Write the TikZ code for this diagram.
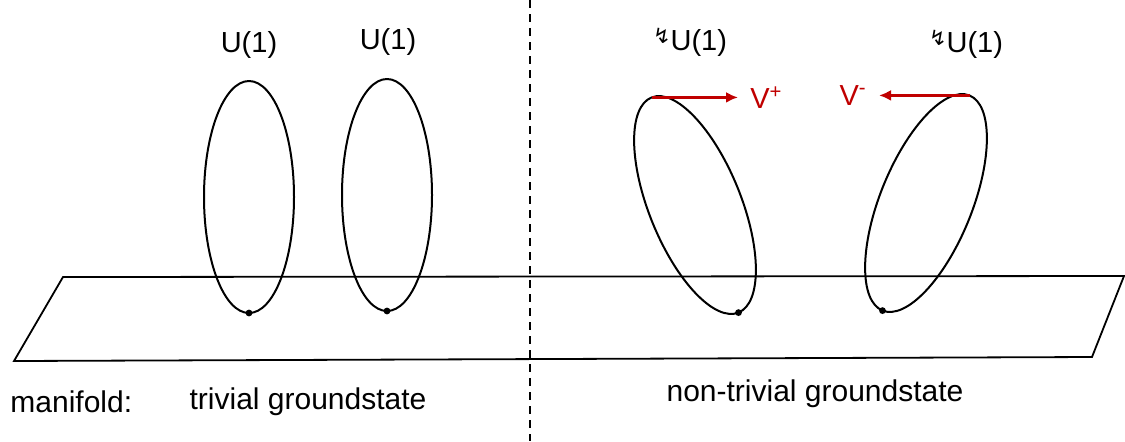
\documentclass[tikz,border=0pt]{standalone}
\usepackage{fontspec}
\setmainfont{Liberation Sans}
\newfontfamily\symfont{DejaVu Sans}
\usetikzlibrary{arrows.meta}
\definecolor{vec}{HTML}{C00000}
\definecolor{ink}{HTML}{000000}

\begin{document}
\begin{tikzpicture}[x=0.5pt, y=-0.5pt, >=Latex,
  lab/.style={font=\fontsize{14.5}{17}\selectfont, inner sep=0pt},
  blab/.style={font=\fontsize{15}{18}\selectfont, inner sep=0pt},
  vlab/.style={lab, text=vec},
  loopc/.style={draw=ink, line width=1pt},
  base/.style={draw=ink, line width=0.9pt, line join=miter},
  sep/.style={draw=ink, line width=0.7pt, dash pattern=on 4pt off 3pt},
  v/.style={draw=vec, line width=1.4pt, -{Latex[length=6pt, width=5.5pt]}, shorten >=6pt}
]
\useasboundingbox (0,0) rectangle (1125,441);
% manifold and separator
\draw[base] (63,277) -- (1124,276) -- (1092,357) -- (14,361) -- cycle;
\draw[sep] (530,0) -- (530,441);
% trivial loops
\draw[loopc] (249,197) ellipse [x radius=45, y radius=116];
\draw[loopc] (387,195) ellipse [x radius=45, y radius=116];
\fill[ink] (249,313) circle [radius=3.4];
\fill[ink] (387,311) circle [radius=3.4];
% twisted loops
\draw[loopc, rotate around={22:(695,205)}] (695,205) ellipse [x radius=46, y radius=116];
\draw[loopc, rotate around={-22:(926,203)}] (926,203) ellipse [x radius=46, y radius=116];
\fill[ink] (738.5,312.6) circle [radius=3.4];
\fill[ink] (882.5,310.6) circle [radius=3.4];
\coordinate (top1) at (651.5,97.4);
\coordinate (top2) at (969.5,95.4);
% labels
\node[lab] (u1) at (249,45) {U(1)};
\node[lab] (u2) at (388,42) {U(1)};
\node[lab] (tu1) at (690,42) {\raisebox{0.45ex}{\symfont\fontsize{10.5}{10}\selectfont ↯}U(1)};
\node[lab] (tu2) at (966,44) {\raisebox{0.45ex}{\symfont\fontsize{10.5}{10}\selectfont ↯}U(1)};
\node[vlab, anchor=west] (vp) at (750,97.4) {V\textsuperscript{+}};
\node[vlab, anchor=east] (vm) at (867,95.4) {V\textsuperscript{-}};
\draw[v] (top1) -- (vp.west);
\draw[v] (top2) -- (vm.east);
\node[blab, anchor=west] (mf) at (10,402) {manifold:};
\node[blab] (tg) at (308,402) {trivial groundstate};
\node[blab] (ng) at (815,394) {non-trivial groundstate};
\end{tikzpicture}
\end{document}
